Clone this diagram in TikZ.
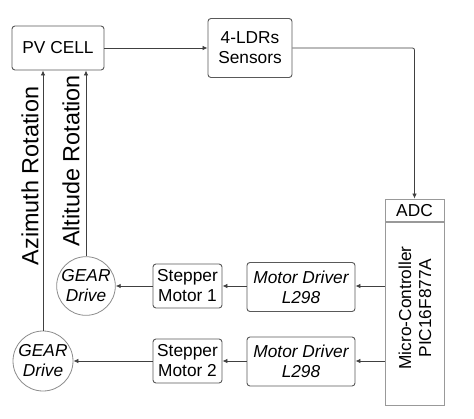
\documentclass[tikz,border=0pt]{standalone}
\usepackage{fontspec}
\setmainfont{Liberation Sans}
\usetikzlibrary{arrows.meta,calc}
\begin{document}
\begin{tikzpicture}[x=1pt,y=-1pt,
  font=\fontsize{17.3}{20}\selectfont,
  rbox/.style={draw=black!65,line width=0.9pt,rounded corners=3pt,align=center,inner sep=0pt},
  sbox/.style={draw=black!40,line width=0.9pt,align=center,inner sep=0pt},
  gear/.style={circle,draw=black!45,line width=0.8pt,align=center,inner sep=0pt,font=\fontsize{17.3}{20}\selectfont\itshape},
  conn/.style={draw=black!75,line width=0.8pt},
  arr/.style={conn,-{Latex[length=5pt,width=4.5pt]}},
  biglabel/.style={rotate=90,font=\fontsize{23.4}{26}\selectfont,inner sep=0pt}]
\useasboundingbox (0,0) rectangle (474,418);
\fill[white] (0,0) rectangle (474,418);
\node[rbox,minimum width=92pt,minimum height=44pt] (pv) at (58,48) {PV CELL};
\node[rbox,minimum width=84pt,minimum height=59pt] (ldr) at (250,48) {4-LDRs\\Sensors};
\node[sbox,minimum width=59pt,minimum height=184pt] (mc) at (414.5,313.5) {};
\node[rotate=90,align=center,inner sep=0pt] (mctext) at (415,308) {Micro-Controller\\PIC16F877A};
\node[sbox,minimum width=59pt,minimum height=23pt] (adc) at (414.5,210.5) {ADC};
\node[rbox,minimum width=108pt,minimum height=49pt,font=\fontsize{17.3}{20}\selectfont\itshape] (md1) at (301,287) {Motor Driver\\L298};
\node[rbox,minimum width=108pt,minimum height=49pt,font=\fontsize{17.3}{20}\selectfont\itshape] (md2) at (301,361.5) {Motor Driver\\L298};
\node[rbox,minimum width=69pt,minimum height=44pt] (sm1) at (187.5,286) {Stepper\\Motor 1};
\node[rbox,minimum width=69pt,minimum height=44pt] (sm2) at (187.5,361) {Stepper\\Motor 2};
\node[gear,minimum size=58pt] (g1) at (86,286) {GEAR\\Drive};
\node[gear,minimum size=60pt] (g2) at (43,361) {GEAR\\Drive};
\node[biglabel] (az) at (30,176) {Azimuth Rotation};
\node[biglabel] (alt) at (71,161) {Altitude Rotation};
\draw[arr] (pv.east) -- (pv.east -| ldr.west);
\draw[arr,rounded corners=2pt] (ldr.east) -| (adc.north);
\draw[arr] (mc.west |- sm1) -- (md1.east |- sm1);
\draw[arr] (md1.west |- sm1) -- (sm1.east);
\draw[arr] (sm1.west) -- (g1.east);
\draw[arr] (mc.west |- sm2) -- (md2.east |- sm2);
\draw[arr] (md2.west |- sm2) -- (sm2.east);
\draw[arr] (sm2.west) -- (g2.east);
\draw[arr] (g1.north) -- (g1.north |- pv.south);
\draw[arr] (g2.north) -- (g2.north |- pv.south);
\end{tikzpicture}
\end{document}
